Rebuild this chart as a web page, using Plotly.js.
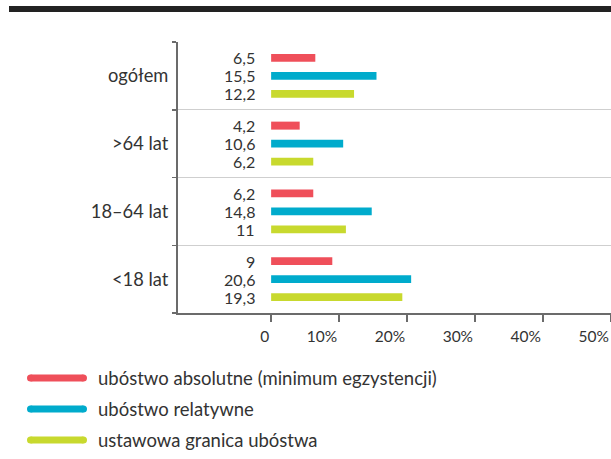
<!DOCTYPE html>
<html>
<head>
<meta charset="utf-8">
<script src="https://cdn.plot.ly/plotly-3.0.1.min.js"></script>
<style>html,body{margin:0;padding:0;background:#fff;}#chart{width:611px;height:459px;}</style>
</head>
<body>
<div id="chart"></div>
<script>
// Data
const categories = ['<18 lat', '18–64 lat', '>64 lat', 'ogółem'];
const absolutne = [9, 6.2, 4.2, 6.5];
const relatywne = [20.6, 14.8, 10.6, 15.5];
const ustawowa = [19.3, 11, 6.2, 12.2];
const seriesNames = ['ubóstwo absolutne (minimum egzystencji)', 'ubóstwo relatywne', 'ustawowa granica ubóstwa'];
const xTickVals = [0, 10, 20, 30, 40, 50];
const xTickText = ['0', '10%', '20%', '30%', '40%', '50%'];

const colors = ['#EF4F5A', '#00ABCC', '#C8D92E'];
const font = 'Lato, "Open Sans", sans-serif';
const textColor = '#333333';

// plot area in pixels
const L = 178, R = 611, T = 42, B = 313;
const W = 611, H = 459;
const px = x => (x - L) / (R - L);
const py = y => (B - y) / (B - T);

const seriesData = [absolutne, relatywne, ustawowa];
// draw order bottom-to-top within a group: green, blue, red
const order = [2, 1, 0];
const traces = order.map(i => ({
  type: 'bar', orientation: 'h',
  y: categories, x: seriesData[i],
  name: seriesNames[i],
  marker: {color: colors[i]},
  hoverinfo: 'x+y',
  showlegend: false
}));

const fmt = v => String(v).replace('.', ',');
const annotations = [];
const shifts = [18, 0, -18];
seriesData.forEach((arr, si) => {
  arr.forEach((v, ci) => {
    annotations.push({
      x: 0, y: categories[ci], xref: 'x', yref: 'y',
      text: fmt(v), showarrow: false, xanchor: 'right', yanchor: 'middle',
      xshift: -14, yshift: shifts[si],
      font: {family: font, size: 16, color: textColor}
    });
  });
});

// legend
const legendY = [378, 409, 440];
const shapes = [];
// top dark bar
shapes.push({type: 'rect', xref: 'paper', yref: 'paper', x0: px(9), x1: px(611), y0: py(12), y1: py(6),
  fillcolor: '#222222', line: {width: 0}, layer: 'above'});
seriesNames.forEach((name, i) => {
  const yc = legendY[i];
  const r = 3.6;
  shapes.push({type: 'line', xref: 'paper', yref: 'paper', x0: px(27 + r), x1: px(87 - r), y0: py(yc), y1: py(yc),
    line: {color: colors[i], width: 7.2}});
  [27 + r, 87 - r].forEach(cx => {
    shapes.push({type: 'circle', xref: 'paper', yref: 'paper', x0: px(cx - r), x1: px(cx + r), y0: py(yc + r), y1: py(yc - r),
      fillcolor: colors[i], line: {width: 0}});
  });
  annotations.push({xref: 'paper', yref: 'paper', x: px(96), y: py(yc), xanchor: 'left', yanchor: 'middle',
    text: name, showarrow: false, font: {family: font, size: 18.5, color: textColor}});
});

const layout = {
  width: W, height: H,
  margin: {l: L, r: W - R, t: T, b: H - B},
  paper_bgcolor: '#fff', plot_bgcolor: '#fff',
  barmode: 'group', bargap: 0.203, bargroupgap: 0.556,
  showlegend: false,
  font: {family: font, color: textColor},
  xaxis: {
    range: [-13.7, 50], tickvals: xTickVals, ticktext: xTickText,
    showgrid: false, zeroline: false,
    showline: true, linecolor: '#6b6b6b', linewidth: 2,
    ticks: 'outside', ticklen: 7, tickwidth: 2, tickcolor: '#6b6b6b',
    ticklabelposition: 'outside left',
    ticklabelstandoff: 8,
    tickfont: {family: font, size: 15.5, color: textColor},
    fixedrange: true
  },
  yaxis: {
    type: 'category', categoryorder: 'array', categoryarray: categories,
    range: [-0.5, 3.5],
    tickson: 'boundaries', ticks: 'outside', ticklen: 4, tickwidth: 1.5, tickcolor: '#6b6b6b',
    showgrid: true, gridcolor: '#cfcfcf', gridwidth: 1.2,
    showline: true, linecolor: '#6b6b6b', linewidth: 2,
    zeroline: false,
    tickfont: {family: font, size: 18.3, color: textColor},
    ticklabelstandoff: 4,
    fixedrange: true
  },
  shapes: shapes,
  annotations: annotations
};

Plotly.newPlot('chart', traces, layout, {displayModeBar: false, staticPlot: true});
</script>
</body>
</html>
